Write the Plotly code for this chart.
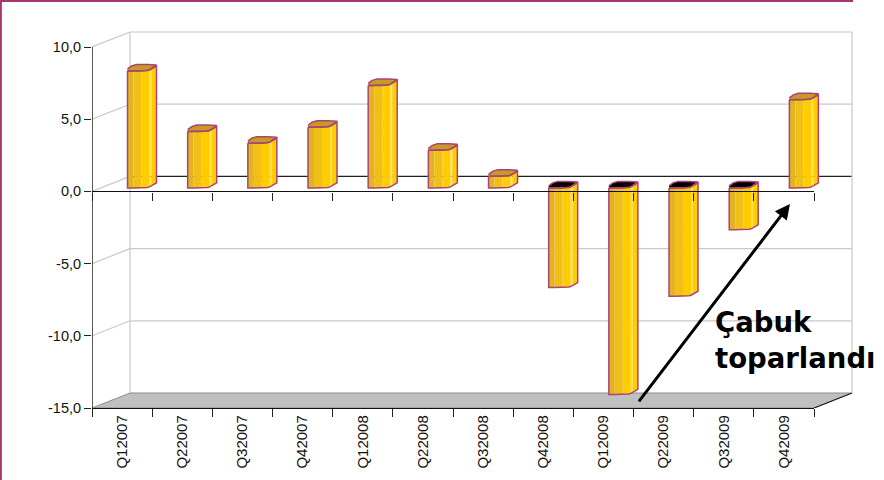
import plotly.graph_objects as go
import numpy as np

# data
quarters = ["Q12007", "Q22007", "Q32007", "Q42007", "Q12008", "Q22008",
            "Q32008", "Q42008", "Q12009", "Q22009", "Q32009", "Q42009"]
values = [8.1, 3.9, 3.1, 4.2, 7.1, 2.6, 0.8, -6.9, -14.3, -7.5, -2.9, 6.1]
y_ticks = [10, 5, 0, -5, -10, -15]
y_labels = ["10,0", "5,0", "0,0", "-5,0", "-10,0", "-15,0"]

W, H = 884, 480
BAND = 60.17     # px per quarter
UNIT = 14.44     # px per y unit
LEFT, RIGHT_FRONT, RIGHT_BACK = 92, 814, 853
TOP, BOTTOM = 31, 408
FONT = "Liberation Sans"

# depth of the fake 3d box and of the bars, in axis units
dx = 38 / BAND
dy = 15 / UNIT
n = len(quarters)
x_max = (RIGHT_BACK - LEFT) / BAND
y_max = (BOTTOM - TOP) / UNIT - 15


def px_x(p):
    return p / BAND


def px_y(p):
    return p / UNIT


# bar cross section: distance along the bar -> lift of the front edge
profile_x = [0, 6, 14, 20, 22, 24, 29]
profile_y = [0, 0, 0, 0.5, 1, 2, 5]
stripes = [(0, 6, "#e2b322"), (6, 14, "#f0bf18"), (14, 22, "#ffcc00"),
           (22, 24, "#ffde50"), (24, 29, "#ffcc00")]
BAR_OFFSET = 0.59
BAR_LIFT = px_y(3.5)


def lift(p):
    return px_y(np.interp(p, profile_x, profile_y))


def stripe_path(i, v, a, b):
    low, high = min(v, 0), max(v, 0)
    left = i + BAR_OFFSET
    pts = [p for p in profile_x if a < p < b]
    along = [a] + pts + [b]
    xs = [left + px_x(p) for p in along]
    tops = [high + BAR_LIFT + lift(p) for p in along]
    bots = [low + BAR_LIFT + lift(p) for p in along]
    return xs + xs[::-1] + [xs[0], None], tops + bots[::-1] + [tops[0], None]


def top_path(i, v):
    level = max(v, 0) + BAR_LIFT
    left = i + BAR_OFFSET
    xs = [left, left + px_x(14), left + px_x(22), left + px_x(29),
          left + px_x(20), left + px_x(9), left + px_x(4), left, None]
    ys = [level, level, level + px_y(1), level + px_y(6),
          level + px_y(6.5), level + px_y(6.5), level + px_y(5), level + px_y(2), None]
    return xs, ys


def outline_path(i, v):
    low, high = min(v, 0), max(v, 0)
    left = i + BAR_OFFSET
    xs = [left + px_x(p) for p in profile_x]
    tops = [high + BAR_LIFT + lift(p) for p in profile_x]
    bots = [low + BAR_LIFT + lift(p) for p in profile_x]
    return xs + xs[::-1] + [xs[0], None], tops + bots[::-1] + [tops[0], None]


fig = go.Figure()


def line(xs, ys, color, width=1.2, xaxis="x"):
    fig.add_trace(go.Scatter(x=xs, y=ys, mode="lines", line=dict(color=color, width=width),
                             xaxis=xaxis, hoverinfo="skip", showlegend=False))


# floor
fig.add_trace(go.Scatter(x=[0, n, n + dx, dx, 0], y=[-15, -15, -15 + dy, -15 + dy, -15],
                         mode="lines", line=dict(color="#8c8c8c", width=1), fill="toself",
                         fillcolor="#c0c0c0", hoverinfo="skip", showlegend=False))
line([n, n + dx], [-15, -15 + dy], "#222222", 1.2)

# walls and grid
for v in y_ticks[:-1]:
    c = "#222222" if v == 0 else "#c8c8c8"
    line([0, dx], [v, v + dy], "#c8c8c8")
    line([dx, n + dx], [v + dy, v + dy], c, 1.4 if v == 0 else 1.2)
line([dx, dx], [-15 + dy, 10 + dy], "#c8c8c8")
line([n + dx, n + dx], [-15 + dy, 10 + dy], "#c8c8c8")

# bars, one trace per colour with gaps between the bars
for a, b, color in stripes:
    xs, ys = [], []
    for i, v in enumerate(values):
        px, py = stripe_path(i, v, a, b)
        xs += px
        ys += py
    fig.add_trace(go.Scatter(x=xs, y=ys, mode="lines", line=dict(width=0), fill="toself",
                             fillcolor=color, hoverinfo="skip", showlegend=False))

for positive, color in [(True, "#c59b26"), (False, "#000000")]:
    xs, ys = [], []
    for i, v in enumerate(values):
        if (v > 0) == positive:
            px, py = top_path(i, v)
            xs += px
            ys += py
    fig.add_trace(go.Scatter(x=xs, y=ys, mode="lines", line=dict(width=0), fill="toself",
                             fillcolor=color, hoverinfo="skip", showlegend=False))

xs, ys = [], []
for i, v in enumerate(values):
    for path in (outline_path(i, v), top_path(i, v)):
        xs += path[0]
        ys += path[1]
line(xs, ys, "#ab4474", 1.5)

# front y axis line
line([0, 0], [-15, 10], "#000000", 1.3)

# category axes: the bottom one has the labels, the other one is the zero line
fig.add_trace(go.Scatter(x=quarters, y=values, mode="none", xaxis="x2", hoverinfo="skip", showlegend=False))
fig.add_trace(go.Scatter(x=quarters, y=values, mode="none", xaxis="x3", hoverinfo="skip", showlegend=False))

y_low = (H - BOTTOM) / H
front_domain = [LEFT / W, RIGHT_FRONT / W]
cat_axis = dict(type="category", categoryorder="array", categoryarray=quarters, range=[-0.5, n - 0.5],
                domain=front_domain, anchor="free", tickson="boundaries", ticks="outside", ticklen=8,
                tickwidth=1.2, tickcolor="#222222", showline=True, linecolor="#111111", linewidth=1.4,
                showgrid=False, zeroline=False)

# the page comes out 8px shorter than asked for, so ask for 8px more
fig.update_layout(
    width=W, height=H + 8, margin=dict(l=0, r=0, t=0, b=0),
    paper_bgcolor="white", plot_bgcolor="rgba(0,0,0,0)",
    showlegend=False, font=dict(family=FONT, size=14.5, color="#111111"),
    xaxis=dict(domain=[LEFT / W, RIGHT_BACK / W], range=[0, x_max], visible=False, fixedrange=True),
    yaxis=dict(domain=[y_low, (H - TOP) / H], range=[-15, y_max], tickmode="array",
               tickvals=y_ticks, ticktext=y_labels, ticks="outside", ticklen=7, tickwidth=1.2,
               tickcolor="#222222", showgrid=False, zeroline=False, showline=False),
    xaxis2=dict(cat_axis, position=y_low, tickangle=-90, tickfont=dict(size=15)),
    xaxis3=dict(cat_axis, position=y_low + 15 * UNIT / H, showticklabels=False),
    shapes=[
        dict(type="line", xref="paper", yref="paper", x0=0, x1=RIGHT_BACK / W, y0=1 - 1 / H, y1=1 - 1 / H,
             line=dict(color="#a8366f", width=2)),
        dict(type="line", xref="paper", yref="paper", x0=0.001, x1=0.001, y0=0, y1=1,
             line=dict(color="#a8366f", width=2)),
    ],
    annotations=[
        dict(text="Çabuk<br>toparlandı", xref="paper", yref="paper", x=713 / W, y=(H - 339.5) / H,
             xanchor="left", yanchor="middle", align="left", showarrow=False,
             font=dict(family="DejaVu Sans", size=27.5, color="black", weight="bold")),
        dict(text="", xref="x", yref="y", axref="x", ayref="y", x=11.6, y=-0.87, ax=9.07, ay=-14.65,
             showarrow=True, arrowhead=2, arrowsize=1, arrowwidth=3, arrowcolor="black", standoff=0),
    ],
)

# the browser's default body margin would push the chart off by 8px
fig.write_html("out.html", config=dict(displayModeBar=False),
               post_script="document.body.style.margin='0';")
